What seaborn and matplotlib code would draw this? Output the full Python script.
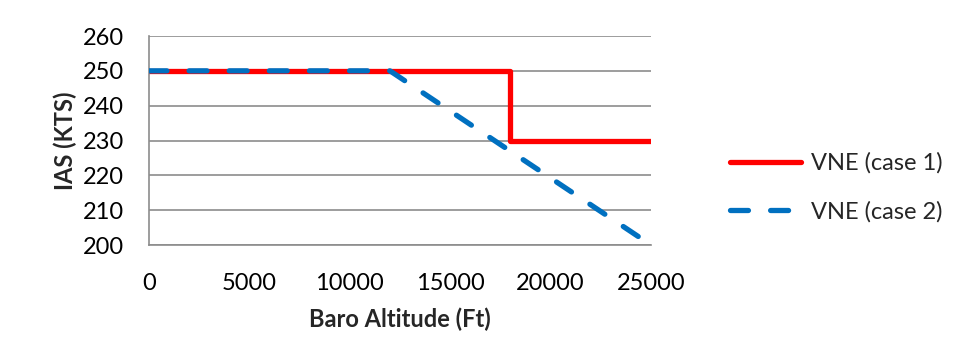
import matplotlib
matplotlib.use("Agg")
import matplotlib.pyplot as plt
import seaborn as sns
import pandas as pd

# Data
case1_alt = [0, 18000, 18000, 25000]
case1_ias = [250, 250, 230, 230]
case2_alt = [0, 12000, 25000]
case2_ias = [250, 250, 200]
series_names = ["VNE (case 1)", "VNE (case 2)"]
x_ticks = [0, 5000, 10000, 15000, 20000, 25000]
y_ticks = [200, 210, 220, 230, 240, 250, 260]

sns.set_theme(style="white")
plt.rcParams['font.family'] = ['Lato', 'DejaVu Sans']

df1 = pd.DataFrame({"alt": case1_alt, "ias": case1_ias})
df2 = pd.DataFrame({"alt": case2_alt, "ias": case2_ias})

fig = plt.figure(figsize=(9.6, 3.62), dpi=100)
ax = fig.add_axes([149/960, 1 - 245/362, (651-149)/960, (245-36)/362])

sns.lineplot(data=df1, x="alt", y="ias", ax=ax, color="#ff0000", linewidth=3.8,
             label=series_names[0], sort=False, estimator=None, errorbar=None,
             solid_capstyle="butt", zorder=3)
sns.lineplot(data=df2, x="alt", y="ias", ax=ax, color="#0070c0", linewidth=3.8,
             label=series_names[1], sort=False, estimator=None, errorbar=None,
             zorder=4)
ax.lines[1].set_dashes([3.4, 4.2])
ax.lines[1].set_dash_capstyle("round")

ax.set_xlim(0, 25000)
ax.set_ylim(200, 260)
ax.set_xticks(x_ticks)
ax.set_yticks(y_ticks)
ax.grid(axis="y", color="#8c8c8c", linewidth=1.2)
ax.set_axisbelow(True)
for s in ["top", "right"]:
    ax.spines[s].set_visible(False)
for s in ["left", "bottom"]:
    ax.spines[s].set_color("#8c8c8c")
    ax.spines[s].set_linewidth(1.2)
ax.tick_params(axis="both", which="both", length=8, width=1.2, color="#8c8c8c",
               labelsize=17, labelcolor="black", direction="out")
ax.tick_params(axis="y", pad=10)
ax.tick_params(axis="x", pad=12)
ax.set_xlabel("Baro Altitude (Ft)", fontsize=17, fontweight="bold", labelpad=10)
ax.set_ylabel("IAS (KTS)", fontsize=17, fontweight="bold", labelpad=4)

leg = ax.legend(loc="center left", bbox_to_anchor=(1.115, 0.275), frameon=False,
                fontsize=17, handlelength=3.0, labelspacing=1.15, handletextpad=0.45)
for h in leg.get_lines():
    h.set_solid_capstyle("round")
    h.set_dash_capstyle("round")

fig.savefig("out.png", dpi=100, facecolor="white")
